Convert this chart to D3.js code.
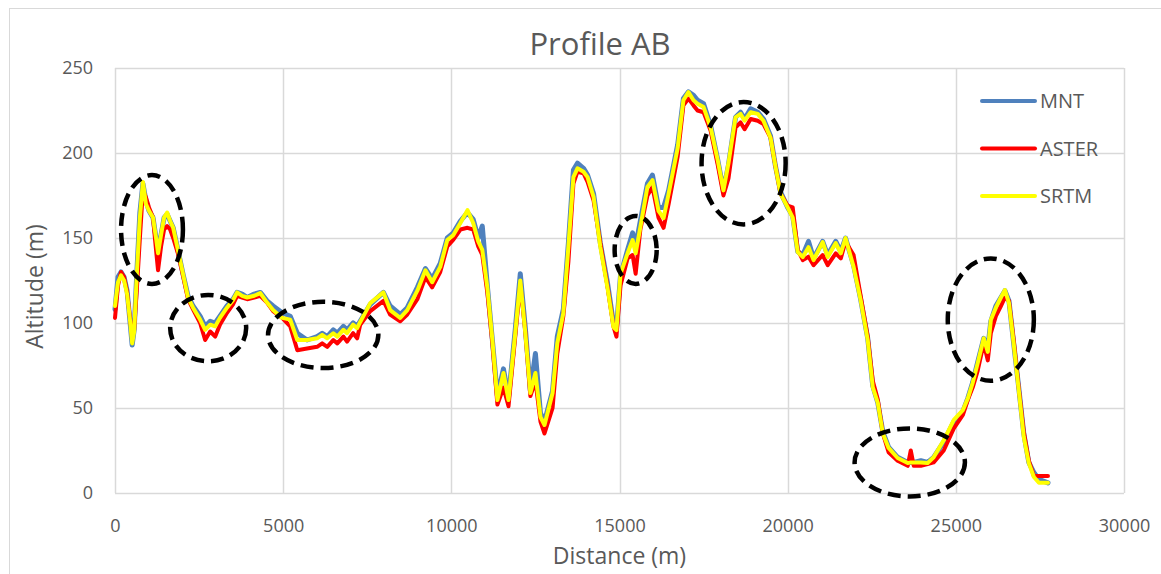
<!DOCTYPE html>
<html>
<head>
<meta charset="utf-8">
<script src="https://cdn.jsdelivr.net/npm/d3@7"></script>
<style>
  html, body { margin: 0; padding: 0; background: #fff; }
  #chart { width: 1161px; height: 574px; }
  text { font-family: "Open Sans", "Liberation Sans", sans-serif; }
</style>
</head>
<body>
<div id="chart"></div>
<script>
// Distance along the profile (m)
const distance = [
  0, 90, 180, 270, 360, 450, 510, 570, 650, 740, 830, 920, 1010, 1130, 1220, 1280, 1370, 1460, 1550, 1640,
  1730, 1870, 2020, 2170, 2320, 2530, 2680, 2830, 2980, 3120, 3330, 3510, 3630, 3780, 3930, 4140, 4320, 4520, 4700, 4970,
  5210, 5420, 5710, 6010, 6160, 6310, 6490, 6610, 6790, 6900, 7080, 7200, 7290, 7590, 7980, 8180, 8480, 8690, 8990, 9230,
  9430, 9670, 9880, 10060, 10270,
  10480, 10650, 10800, 10920, 11070, 11220, 11370, 11550, 11700, 11900, 12050, 12200, 12350, 12500, 12650, 12770, 13010, 13150, 13330, 13480,
  13630, 13750, 13930, 14050, 14230, 14430, 14640, 14820, 14910, 15030, 15240, 15390, 15480, 15620, 15830, 15980, 16160, 16310, 16460, 16730,
  16900, 17050, 17200, 17320, 17500, 17710, 17920, 18090, 18240, 18450, 18600, 18720, 18900, 19110, 19280, 19490, 19640, 19790, 20000, 20150,
  20300, 20450, 20620, 20770, 21040, 21190, 21430, 21580, 21720, 21960, 22170, 22380, 22530, 22680, 22830, 23000, 23270, 23570, 23660, 23750,
  23960, 24160, 24340, 24640, 24940, 25210, 25360, 25500, 25650, 25830, 25950, 26040, 26190, 26340, 26460, 26580, 26720, 26870, 27020, 27170,
  27320, 27470, 27740
];

const mnt = [
  108, 127, 130, 127, 119, 100, 87, 96, 130, 165, 182, 172, 166, 162, 150, 141, 152, 162, 164, 160,
  156, 143, 129, 116, 110, 104, 98, 101, 100, 104, 110, 114, 118, 117, 115, 117, 118, 113, 110, 106,
  104, 94, 90, 92, 94, 92, 96, 94, 98, 96, 100, 98, 101, 111, 118, 110, 105, 109, 121, 132,
  126, 135, 150, 153, 160,
  165, 161, 150, 157, 122, 90, 57, 73, 56, 96, 129, 97, 60, 82, 47, 42, 60, 92, 108, 147,
  190, 194, 191, 187, 176, 147, 124, 100, 97, 128, 143, 153, 145, 160, 182, 187, 168, 168, 178, 205,
  232, 236, 234, 231, 229, 216, 196, 178, 193, 221, 224, 220, 226, 224, 220, 210, 192, 177, 168, 163,
  142, 140, 148, 138, 148, 140, 148, 142, 150, 134, 114, 91, 63, 53, 36, 27, 21, 18, 18, 18,
  19, 18, 21, 30, 42, 48, 56, 65, 77, 91, 85, 101, 110, 115, 119, 113, 88, 62, 35, 18,
  12, 8, 6
];

const aster = [
  103, 122, 130, 127, 118, 102, 92, 96, 120, 150, 178, 174, 168, 162, 143, 131, 145, 155, 157, 155,
  150, 141, 128, 114, 108, 100, 90, 95, 92, 99, 106, 111, 116, 115, 114, 115, 116, 112, 107, 103,
  98, 84, 85, 86, 88, 86, 90, 88, 92, 89, 94, 91, 99, 107, 113, 105, 101, 105, 114, 127,
  121, 130, 145, 149, 155,
  156, 155, 145, 140, 118, 88, 52, 62, 51, 92, 123, 95, 57, 66, 42, 35, 50, 82, 104, 136,
  182, 189, 188, 183, 172, 147, 122, 98, 92, 122, 138, 140, 129, 155, 175, 180, 162, 156, 170, 198,
  228, 232, 228, 225, 224, 213, 193, 175, 185, 215, 218, 214, 220, 219, 217, 209, 192, 176, 169, 168,
  143, 137, 139, 134, 140, 134, 141, 138, 148, 140, 116, 92, 66, 55, 35, 24, 19, 16, 25, 16,
  16, 17, 18, 25, 38, 46, 55, 62, 72, 88, 78, 94, 104, 110, 115, 113, 90, 62, 36, 19,
  10, 10, 10
];

const srtm = [
  110, 124, 128, 125, 117, 101, 88, 95, 129, 162, 183, 170, 166, 162, 150, 141, 152, 162, 165, 160,
  156, 143, 129, 115, 109, 102, 96, 99, 98, 103, 109, 113.5, 118, 116, 115, 116, 117.6, 112, 107.6, 103,
  102, 90, 90, 91, 93, 91, 94, 92, 96, 94, 99, 97, 100.6, 111.7, 118, 107.6, 103, 107.6, 119, 131,
  124, 133, 148.8, 151.7, 158.8,
  166.4, 158.8, 148, 143, 121, 90, 54.7, 70.6, 54.7, 94, 125, 94, 58.8, 70.6, 44.7, 40, 58.8, 88, 105.8, 144.7,
  185.8, 191, 189, 185.8, 174, 144.7, 121, 97.6, 95.8, 129, 141, 148.8, 141, 156.4, 180, 184, 166, 161.7, 176, 203,
  231, 235.8, 231, 229, 227, 215, 195.8, 178, 194, 221, 223, 219, 224, 223, 219, 209, 191.7, 176, 168, 162,
  141.7, 138.8, 144.6, 137, 147.6, 138.8, 147, 141, 150, 133, 113.5, 90, 62.3, 53, 35, 26.5, 20.6, 17.6, 18, 18,
  18, 17.6, 21, 31, 43, 48.8, 55.8, 64.7, 76.4, 91, 83, 101.7, 109, 115, 119.4, 111.7, 88, 60.6, 33, 17.6,
  9.4, 6, 6
];

const seriesNames = ["MNT", "ASTER", "SRTM"];
const seriesColors = ["#4F81BD", "#FF0000", "#FFFF00"];

const xTicks = [0, 5000, 10000, 15000, 20000, 25000, 30000];
const yTicks = [0, 50, 100, 150, 200, 250];

// Dashed annotation ellipses: centre (m, m) and radii (m, m)
const ellipseCx = [1100, 2770, 6190, 15480, 18690, 23630, 26040];
const ellipseCy = [155, 97, 93, 143, 194, 18, 102];
const ellipseRx = [920, 1130, 1640, 625, 1250, 1640, 1280];
const ellipseRy = [32, 19.5, 19.5, 20, 36, 20, 36];

const W = 1161, H = 574;
const margin = { top: 68, right: 37, bottom: 81, left: 115 };
const width = W - margin.left - margin.right;
const height = H - margin.top - margin.bottom;

const svg = d3.select("#chart").append("svg")
  .attr("width", W)
  .attr("height", H);

// chart frame
svg.append("rect")
  .attr("x", 9.5).attr("y", 8.5)
  .attr("width", W).attr("height", H)
  .attr("fill", "none")
  .attr("stroke", "#D9D9D9");

const g = svg.append("g").attr("transform", `translate(${margin.left},${margin.top})`);

const x = d3.scaleLinear().domain([0, 30000]).range([0, width]);
const y = d3.scaleLinear().domain([0, 250]).range([height, 0]);

// gridlines
g.append("g")
  .selectAll("line")
  .data(yTicks)
  .join("line")
  .attr("x1", 0).attr("x2", width)
  .attr("y1", (d) => Math.round(y(d)) + 0.5)
  .attr("y2", (d) => Math.round(y(d)) + 0.5)
  .attr("stroke", "#D9D9D9")
  .attr("stroke-width", 1.5);

g.append("g")
  .selectAll("line")
  .data(xTicks)
  .join("line")
  .attr("x1", (d) => Math.round(x(d)) + 0.5)
  .attr("x2", (d) => Math.round(x(d)) + 0.5)
  .attr("y1", 0).attr("y2", height)
  .attr("stroke", "#D9D9D9")
  .attr("stroke-width", 1.5);

// axes (labels only)
g.append("g")
  .attr("transform", `translate(0,${height})`)
  .call(d3.axisBottom(x).tickValues(xTicks).tickFormat(d3.format("d")).tickSize(0))
  .call((a) => a.select(".domain").remove())
  .selectAll("text")
  .attr("fill", "#595959")
  .attr("font-size", "18px")
  .attr("dy", "2.0em");

g.append("g")
  .call(d3.axisLeft(y).tickValues(yTicks).tickFormat(d3.format("d")).tickSize(0))
  .call((a) => a.select(".domain").remove())
  .selectAll("text")
  .attr("fill", "#595959")
  .attr("font-size", "18px")
  .attr("dx", "-1.05em");

// lines
const seriesValues = [mnt, aster, srtm];
const line = d3.line()
  .x((d) => x(d[0]))
  .y((d) => y(d[1]));

seriesValues.forEach((vals, i) => {
  g.append("path")
    .datum(distance.map((dist, j) => [dist, vals[j]]))
    .attr("fill", "none")
    .attr("stroke", seriesColors[i])
    .attr("stroke-width", i === 0 ? 5 : 4)
    .attr("stroke-linejoin", "round")
    .attr("stroke-linecap", "round")
    .attr("d", line);
});

// annotation ellipses
g.append("g")
  .selectAll("ellipse")
  .data(ellipseCx.map((cx, i) => ({ cx, cy: ellipseCy[i], rx: ellipseRx[i], ry: ellipseRy[i] })))
  .join("ellipse")
  .attr("cx", (d) => x(d.cx))
  .attr("cy", (d) => y(d.cy))
  .attr("rx", (d) => x(d.rx) - x(0))
  .attr("ry", (d) => y(0) - y(d.ry))
  .attr("fill", "none")
  .attr("stroke", "#000")
  .attr("stroke-width", 4.5)
  .attr("stroke-dasharray", "13 7");

// legend
const legend = g.append("g").attr("transform", `translate(${width - 142},0)`);
seriesNames.forEach((name, i) => {
  const ly = 33 + i * 47.5;
  legend.append("line")
    .attr("x1", 0).attr("x2", 53)
    .attr("y1", ly).attr("y2", ly)
    .attr("stroke", seriesColors[i])
    .attr("stroke-width", 4)
    .attr("stroke-linecap", "round");
  legend.append("text")
    .attr("x", 58).attr("y", ly)
    .attr("dy", "0.35em")
    .attr("fill", "#595959")
    .attr("font-size", "20px")
    .text(name);
});

// title
svg.append("text")
  .attr("x", 600)
  .attr("y", 55)
  .attr("text-anchor", "middle")
  .attr("fill", "#595959")
  .attr("font-size", "31px")
  .text("Profile AB");

// axis titles
svg.append("text")
  .attr("x", margin.left + width / 2)
  .attr("y", 564)
  .attr("text-anchor", "middle")
  .attr("fill", "#595959")
  .attr("font-size", "23px")
  .text("Distance (m)");

svg.append("text")
  .attr("transform", `translate(43,${margin.top + height / 2 + 6}) rotate(-90)`)
  .attr("text-anchor", "middle")
  .attr("fill", "#595959")
  .attr("font-size", "23px")
  .text("Altitude (m)");
</script>
</body>
</html>
